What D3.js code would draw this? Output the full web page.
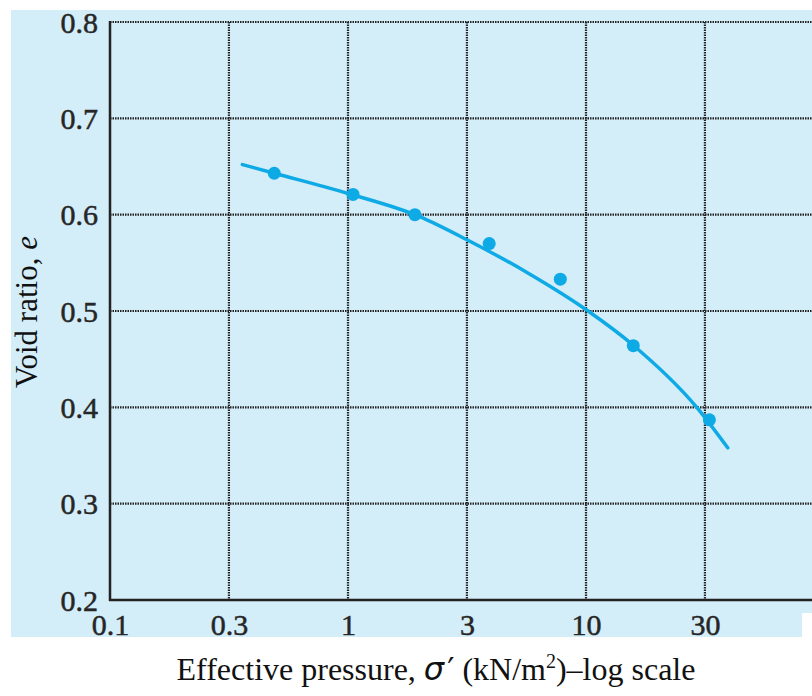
<!DOCTYPE html>
<html>
<head>
<meta charset="utf-8">
<script src="https://cdn.jsdelivr.net/npm/d3@7.9.0/dist/d3.min.js"></script>
<style>
  html, body { margin: 0; padding: 0; background: #fff; }
  svg { display: block; }
</style>
</head>
<body>
<div id="chart"></div>
<script>
// measured test points (pressure in kN/m2, void ratio e)
const pressures = [0.49, 1.05, 1.91, 3.92, 7.8, 15.8, 33];
const voidRatios = [0.643, 0.621, 0.600, 0.570, 0.533, 0.464, 0.387];

// fitted curve
const curvePressures = [0.36, 0.49, 1.0, 2.0, 3.16, 5.65, 10.2, 15.7, 29.2, 39.4];
const curveVoids = [0.652, 0.643, 0.622, 0.598, 0.574, 0.540, 0.500, 0.465, 0.400, 0.358];

// gridlines sit at half-decade steps, labelled 0.1, 0.3, 1 ...
const xTickValues = [0.1, 0.316, 1, 3.16, 10, 31.6];
const xTickLabels = ["0.1", "0.3", "1", "3", "10", "30"];
const yTickValues = [0.2, 0.3, 0.4, 0.5, 0.6, 0.7, 0.8];

const width = 812;
const height = 696;
const plot = { left: 110, top: 22, bottom: 600, right: 812 };
const blue = "#d3edf9";
const cyan = "#0eaae6";
const serif = "'Liberation Serif', 'Times New Roman', serif";

const svg = d3.select("#chart")
  .append("svg")
  .attr("width", width)
  .attr("height", height);

// background panel (bottom-right corner is cut out in the original)
svg.append("rect")
  .attr("x", 11).attr("y", 10)
  .attr("width", width - 11).attr("height", 603)
  .attr("fill", blue);
svg.append("rect")
  .attr("x", 11).attr("y", 612)
  .attr("width", 791).attr("height", 25)
  .attr("fill", blue);

const x = d3.scaleLog()
  .domain([0.1, 100])
  .range([plot.left, plot.left + 3 * 238]);

const y = d3.scaleLinear()
  .domain([0.2, 0.8])
  .range([plot.bottom, plot.top]);

// grid
const grid = svg.append("g")
  .attr("stroke", "#222")
  .attr("stroke-width", 2.2)
  .attr("stroke-dasharray", "1.5,1");

grid.selectAll(".vgrid")
  .data(xTickValues.slice(1))
  .join("line")
  .attr("x1", d => x(d)).attr("x2", d => x(d))
  .attr("y1", plot.top).attr("y2", plot.bottom);

grid.selectAll(".hgrid")
  .data(yTickValues.slice(1))
  .join("line")
  .attr("x1", plot.left).attr("x2", plot.right)
  .attr("y1", d => y(d)).attr("y2", d => y(d));

// axes
const xAxis = svg.append("g")
  .attr("transform", `translate(0,${plot.bottom})`)
  .call(d3.axisBottom(x)
    .tickValues(xTickValues)
    .tickFormat((d, i) => xTickLabels[i])
    .tickSize(0));
xAxis.select(".domain").remove();
xAxis.selectAll("text")
  .attr("dy", null)
  .attr("y", 35)
  .attr("fill", "#262626")
  .attr("stroke", "#262626")
  .attr("stroke-width", 0.5)
  .style("font-family", serif)
  .style("font-size", "30px");

const yAxis = svg.append("g")
  .attr("transform", `translate(${plot.left},0)`)
  .call(d3.axisLeft(y)
    .tickValues(yTickValues)
    .tickFormat(d3.format(".1f"))
    .tickSize(0)
    .tickPadding(12));
yAxis.select(".domain").remove();
yAxis.selectAll("text")
  .attr("dy", "0.34em")
  .attr("fill", "#262626")
  .attr("stroke", "#262626")
  .attr("stroke-width", 0.5)
  .style("font-family", serif)
  .style("font-size", "30px");

// solid frame lines
svg.append("line")
  .attr("x1", plot.left).attr("x2", plot.left)
  .attr("y1", plot.top - 1).attr("y2", plot.bottom + 1)
  .attr("stroke", "#222").attr("stroke-width", 2.5);
svg.append("line")
  .attr("x1", plot.left - 1).attr("x2", plot.right)
  .attr("y1", plot.bottom).attr("y2", plot.bottom)
  .attr("stroke", "#222").attr("stroke-width", 2.5);

// curve
const curveData = curvePressures.map((p, i) => [p, curveVoids[i]]);
const line = d3.line()
  .x(d => x(d[0]))
  .y(d => y(d[1]))
  .curve(d3.curveMonotoneX);

svg.append("path")
  .datum(curveData)
  .attr("d", line)
  .attr("fill", "none")
  .attr("stroke", cyan)
  .attr("stroke-width", 3.5)
  .attr("stroke-linecap", "round");

// points
svg.append("g")
  .selectAll("circle")
  .data(pressures.map((p, i) => [p, voidRatios[i]]))
  .join("circle")
  .attr("cx", d => x(d[0]))
  .attr("cy", d => y(d[1]))
  .attr("r", 6.5)
  .attr("fill", cyan);

// axis titles
svg.append("text")
  .attr("transform", "translate(37,312) rotate(-90)")
  .attr("text-anchor", "middle")
  .attr("fill", "#111")
  .style("font-family", serif)
  .style("font-size", "31px")
  .text("Void ratio, ")
  .append("tspan")
  .style("font-style", "italic")
  .text("e");

const xTitle = svg.append("text")
  .attr("x", 436)
  .attr("y", 680)
  .attr("text-anchor", "middle")
  .attr("fill", "#111")
  .style("font-family", serif)
  .style("font-size", "32px");
xTitle.append("tspan").text("Effective pressure, ");
xTitle.append("tspan")
  .style("font-family", "'DejaVu Sans', sans-serif")
  .style("font-style", "italic")
  .text("σ");
xTitle.append("tspan")
  .attr("dx", 3)
  .style("font-family", "'DejaVu Sans', sans-serif")
  .text("′");
xTitle.append("tspan").text(" (kN/m");
xTitle.append("tspan")
  .attr("dy", -12)
  .style("font-size", "20px")
  .text("2");
xTitle.append("tspan")
  .attr("dy", 12)
  .text(")–log scale");
</script>
</body>
</html>
